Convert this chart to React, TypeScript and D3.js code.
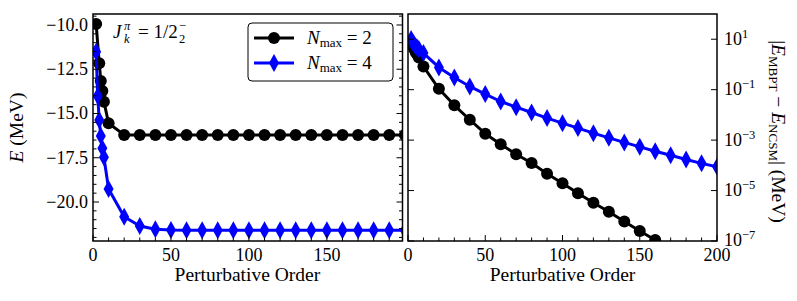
import React from 'react';
import * as d3 from 'd3';

// ---------- data ----------
const ordersN2 = [2, 4, 5, 6, 7, 10, 20, 30, 40, 50, 60, 70, 80, 90, 100, 110, 120, 130, 140, 150, 160, 170, 180, 190, 200];
const energyN2 = [-9.94, -12.16, -13.16, -13.73, -14.33, -15.55, -16.21, -16.22, -16.22, -16.22, -16.22, -16.22, -16.22, -16.22, -16.22, -16.22, -16.22, -16.22, -16.22, -16.22, -16.22, -16.22, -16.22, -16.22, -16.22];
const ordersN4 = [2, 3, 4, 5, 6, 7, 10, 20, 30, 40, 50, 60, 70, 80, 90, 100, 110, 120, 130, 140, 150, 160, 170, 180, 190, 200];
const energyN4 = [-11.51, -14.01, -15.37, -16.27, -16.97, -17.47, -19.27, -20.83, -21.36, -21.54, -21.58, -21.59, -21.6, -21.6, -21.6, -21.6, -21.6, -21.6, -21.6, -21.6, -21.6, -21.6, -21.6, -21.6, -21.6, -21.6];

const diffOrdersN2 = [2, 4, 5, 6, 7, 10, 20, 30, 40, 50, 60, 70, 80, 90, 100, 110, 120, 130, 140, 150, 160];
const diffN2 = [6.3, 4.07, 3.06, 2.49, 1.89, 0.83, 0.108, 0.024, 0.0064, 0.0018, 6.9e-4, 2.75e-4, 1.23e-4, 4.6e-5, 1.95e-5, 7.8e-6, 3.3e-6, 1.45e-6, 5.9e-7, 2.5e-7, 1.1e-7];
const diffOrdersN4 = [2, 3, 4, 5, 6, 7, 10, 20, 30, 40, 50, 60, 70, 80, 90, 100, 110, 120, 130, 140, 150, 160, 170, 180, 190, 200];
const diffN4 = [10.1, 7.6, 6.2, 5.3, 4.6, 4.1, 2.83, 0.76, 0.305, 0.134, 0.0668, 0.034, 0.0203, 0.0124, 0.00745, 0.00471, 0.00299, 0.00189, 0.00123, 8.1e-4, 5.4e-4, 3.6e-4, 2.5e-4, 1.7e-4, 1.2e-4, 8.7e-5];

const leftXTicks = [0, 50, 100, 150];
const rightXTicks = [0, 50, 100, 150, 200];
const leftYTicks = [-20, -17.5, -15, -12.5, -10];
const rightYTickExps = [1, -1, -3, -5, -7];

// ---------- layout ----------
const W = 797, H = 301;
const L = { x0: 93, x1: 402.5, y0: 14, y1: 241 };
const R = { x0: 408, x1: 717, y0: 14, y1: 241 };
const FONT = "'Liberation Serif', 'Times New Roman', serif";
const BLUE = '#0000ff';
const MINUS = '\u2212';
const fmt = (v: number) => (v < 0 ? MINUS : '') + Math.abs(v).toFixed(1);

const xL = d3.scaleLinear().domain([0, 198.5]).range([L.x0, L.x1]);
const yL = d3.scaleLinear().domain([-22.203, -9.379]).range([L.y1, L.y0]);
const xR = d3.scaleLinear().domain([0, 200]).range([R.x0, R.x1]);
const yR = d3.scaleLog().domain([1e-7, 1e2]).range([R.y1, R.y0]);

const diamond = 'M0,-9L5,0L0,9L-5,0Z';

function Series({ xs, ys, x, y, kind }: any) {
  const pts: [number, number][] = xs.map((v: number, i: number) => [x(v), y(ys[i])]);
  const line = d3.line()(pts) || '';
  const color = kind === 'circle' ? '#000' : BLUE;
  return (
    <g>
      <path d={line} fill="none" stroke={color} strokeWidth={3} strokeLinejoin="round" />
      {pts.map((p, i) =>
        kind === 'circle' ? (
          <circle key={i} cx={p[0]} cy={p[1]} r={6} fill={color} />
        ) : (
          <path key={i} d={diamond} transform={`translate(${p[0]},${p[1]})`} fill={color} />
        )
      )}
    </g>
  );
}

export default function App() {
  const leftXMinor = d3.range(0, 200, 10);
  const rightXMinor = d3.range(0, 201, 10);
  const leftYMinor = d3.range(-22, -9.4, 0.5);
  return (
    <svg width={W} height={H} style={{ position: 'absolute', left: 0, top: 0, background: '#fff' }} fontFamily={FONT}>
      <defs>
        <clipPath id="clipL"><rect x={L.x0} y={L.y0} width={L.x1 - L.x0} height={L.y1 - L.y0} /></clipPath>
        <clipPath id="clipR"><rect x={R.x0} y={R.y0} width={R.x1 - R.x0} height={R.y1 - R.y0} /></clipPath>
      </defs>
      <rect x={0} y={0} width={W} height={H} fill="#fff" />

      {/* Left panel data */}
      <g clipPath="url(#clipL)">
        <Series xs={ordersN2} ys={energyN2} x={xL} y={yL} kind="circle" />
        <Series xs={ordersN4} ys={energyN4} x={xL} y={yL} kind="diamond" />
      </g>
      {/* Right panel data */}
      <g clipPath="url(#clipR)">
        <Series xs={diffOrdersN2} ys={diffN2} x={xR} y={yR} kind="circle" />
        <Series xs={diffOrdersN4} ys={diffN4} x={xR} y={yR} kind="diamond" />
      </g>

      {/* ticks */}
      <g stroke="#000" strokeWidth={1}>
        {leftXMinor.map((v) => {
          const major = v % 50 === 0;
          return <line key={'lx' + v} x1={xL(v)} x2={xL(v)} y1={L.y1} y2={L.y1 - (major ? 6 : 3.5)} />;
        })}
        {leftYMinor.map((v) => {
          const major = Math.abs((v / 2.5) - Math.round(v / 2.5)) < 1e-6;
          const len = major ? 6 : 3.5;
          return (
            <g key={'ly' + v}>
              <line x1={L.x0} x2={L.x0 + len} y1={yL(v)} y2={yL(v)} />
              <line x1={L.x1} x2={L.x1 - len} y1={yL(v)} y2={yL(v)} />
            </g>
          );
        })}
        {rightXMinor.map((v) => {
          const major = v % 50 === 0;
          return <line key={'rx' + v} x1={xR(v)} x2={xR(v)} y1={R.y1} y2={R.y1 - (major ? 6 : 3.5)} />;
        })}
        {rightYTickExps.map((e) => (
          <g key={'ry' + e}>
            <line x1={R.x0} x2={R.x0 + 6} y1={yR(Math.pow(10, e))} y2={yR(Math.pow(10, e))} />
            <line x1={R.x1} x2={R.x1 - 6} y1={yR(Math.pow(10, e))} y2={yR(Math.pow(10, e))} />
          </g>
        ))}
      </g>

      {/* frames */}
      <rect x={L.x0} y={L.y0} width={L.x1 - L.x0} height={L.y1 - L.y0} fill="none" stroke="#000" strokeWidth={1.5} />
      <rect x={R.x0} y={R.y0} width={R.x1 - R.x0} height={R.y1 - R.y0} fill="none" stroke="#000" strokeWidth={1.5} />

      {/* tick labels */}
      <g fontSize={18} fill="#000">
        {leftXTicks.map((v) => (
          <text key={'lxt' + v} x={xL(v)} y={261} textAnchor="middle">{v}</text>
        ))}
        {rightXTicks.map((v) => (
          <text key={'rxt' + v} x={xR(v)} y={261} textAnchor="middle">{v}</text>
        ))}
        {leftYTicks.map((v) => (
          <text key={'lyt' + v} x={88} y={yL(v)} dy="0.33em" textAnchor="end">{fmt(v)}</text>
        ))}
        {rightYTickExps.map((e) => (
          <text key={'ryt' + e} x={724} y={yR(Math.pow(10, e))} dy="0.3em">
            10<tspan dy={-7} fontSize={12.5}>{(e < 0 ? MINUS : '') + Math.abs(e)}</tspan>
          </text>
        ))}
      </g>

      {/* axis labels */}
      <g fontSize={19.5} fill="#000">
        <text x={xL(99)} y={281} textAnchor="middle">Perturbative Order</text>
        <text x={xR(100)} y={281} textAnchor="middle">Perturbative Order</text>
        <text transform={`translate(23,${(L.y0 + L.y1) / 2}) rotate(-90)`} textAnchor="middle">
          <tspan fontStyle="italic">E</tspan> (MeV)
        </text>
        <text transform={`translate(772,${(R.y0 + R.y1) / 2 + 4}) rotate(90)`} textAnchor="middle">
          |<tspan fontStyle="italic">E</tspan>
          <tspan fontSize={13} dy={3}>MBPT</tspan>
          <tspan dy={-3}> {MINUS} </tspan>
          <tspan fontStyle="italic">E</tspan>
          <tspan fontSize={13} dy={3}>NCSM</tspan>
          <tspan dy={-3}>| (MeV)</tspan>
        </text>
      </g>

      {/* annotation */}
      <g fill="#000">
        <text x={113} y={38} fontSize={19} fontStyle="italic">J</text>
        <text x={124} y={30} fontSize={12.5} fontStyle="italic">π</text>
        <text x={124} y={43} fontSize={12.5} fontStyle="italic">k</text>
        <text x={138} y={38} fontSize={19}>= 1/2</text>
        <text x={179} y={43} fontSize={12.5}>2</text>
        <text x={179} y={30} fontSize={12.5}>{MINUS}</text>
      </g>

      {/* legend */}
      <g>
        <rect x={248} y={23} width={145} height={58} rx={4} fill="#fff" stroke="#000" strokeWidth={1} />
        <line x1={254} x2={294} y1={38} y2={38} stroke="#000" strokeWidth={3} />
        <circle cx={274} cy={38} r={6} fill="#000" />
        <line x1={254} x2={294} y1={63} y2={63} stroke={BLUE} strokeWidth={3} />
        <path d={diamond} transform="translate(274,63)" fill={BLUE} />
        <text x={307} y={44} fontSize={19}>
          <tspan fontStyle="italic">N</tspan>
          <tspan fontSize={13} dy={3}>max</tspan>
          <tspan dy={-3}> = 2</tspan>
        </text>
        <text x={307} y={69} fontSize={19}>
          <tspan fontStyle="italic">N</tspan>
          <tspan fontSize={13} dy={3}>max</tspan>
          <tspan dy={-3}> = 4</tspan>
        </text>
      </g>
    </svg>
  );
}
